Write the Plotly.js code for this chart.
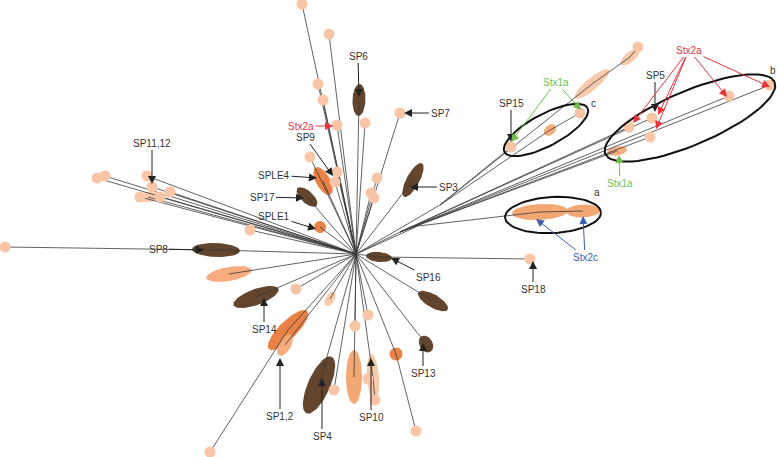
<!DOCTYPE html>
<html><head><meta charset="utf-8">
<script src="https://cdn.plot.ly/plotly-3.0.1.min.js"></script>
<style>html,body{margin:0;padding:0;background:#fff}#chart{width:777px;height:457px}</style>
</head><body><div id="chart"></div>
<script>
// ---- tree data (layout units) ----
const junctionName   = ['R','Ja','Jb','Jc'];
const junctionX      = [356, 418, 400, 440];
const junctionY      = [254, 226, 232, 205];
const junctionParent = [null,'R','R','R'];

// clusters (collapsed clades drawn as ellipses)
const clusterName   = ['SP6','SP3','SPLE4','SP17','SP8','C6','SP14','C8','SP1','SP2L','SP4','C12','SP10','SP13','C15','SP16','A1','A2','Cs','Ch1','Ch2','Bs','SPLE1','C23','C24'];
const clusterX      = [359, 413, 323, 307, 216, 229, 256, 330, 288, 285, 319, 354, 373, 426, 433, 379, 540, 583, 550, 592, 630, 617, 320, 396, 148];
const clusterY      = [100, 180, 181, 197, 250, 274, 297, 299, 330, 345, 385, 377, 378, 344, 301, 257, 212, 211, 130, 84, 57, 151, 227, 354, 197];
const clusterA      = [16, 19, 15.5, 13, 24, 23, 24, 8, 27, 12, 31, 27, 24, 9, 17, 13, 28, 17, 7, 22, 12, 10, 6, 6.5, 11];
const clusterB      = [6.5, 6.5, 7, 6, 7, 7, 8, 4.5, 9, 6, 11, 8, 6, 6.5, 6.5, 5, 8, 6.5, 5, 6, 5, 4.5, 6, 6.5, 5];
const clusterAngle  = [92, -62, 61, 42, 2, -10, -20, -60, -45, -60, -66, 90, 86, 60, 30, 5, -3, -2, -40, -40, -40, -10, 0, 0, -5];
const clusterKind   = ['brown','brown','orange','brown','brown','salmon','brown','pale','orange','salmon','brown','mid','pale','brown','brown','brown','mid','mid','salmon','pale','pale','salmon','orange','orange','pale'];
const clusterParent = ['R','R','R','R','R','R','R','R','R','R','R','R','R','R','R','R','Ja','A1','Jc','Jc','Ch1','Jb','R','R','R'];

// leaves
const leafX      = [302, 329, 318, 323, 337, 365, 400, 337, 335, 310, 377, 371, 374, 97, 105, 147, 152, 170, 140, 160, 250, 5, 296, 210, 334, 355, 368, 368, 375, 416, 530, 511, 580, 638, 770, 729, 652, 629, 650];
const leafY      = [4, 34, 84, 100, 125, 123, 113, 172, 182, 157, 178, 193, 198, 178, 176, 176, 187, 192, 197, 197, 230, 247, 289, 452, 390, 326, 315, 379, 400, 431, 259, 147, 113, 47, 85, 96, 118, 127, 137];
const leafParent = ['R','R','R','R','R','R','R','R','R','R','R','R','R','R','R','R','R','R','R','R','R','SP8','R','SP1','R','R','R','SP10','SP10','C23','SP16','Jc','Cs','Ch2','Jb','Jb','Jb','Jb','Jb'];

// clade outlines a, b, c
const cladeLabel = ['a','b','c'];
const cladeX     = [553, 690, 546];
const cladeY     = [215, 118, 130];
const cladeA     = [48, 92, 47];
const cladeB     = [18, 27, 16];
const cladeAngle = [-3, -23, -28];
const cladeTextX = [597, 773, 593];
const cladeTextY = [192, 70, 103];

// labels with arrows
const labText  = ['SP6','SP7','Stx2a','SP9','SPLE4','SP17','SPLE1','SP11,12','SP8','SP14','SP1,2','SP4','SP10','SP13','SP16','SP3','SP18','SP15','Stx1a','Stx1a','Stx1a','SP5','Stx2a','Stx2a','Stx2a','Stx2a','Stx2a','Stx2c','Stx2c'];
const labX     = [358, 440, 301, 305, 274, 262, 274, 152, 158, 264, 280, 322, 371, 423, 428, 448, 533, 511, 556, 556, 620, 655, 689, 689, 689, 689, 689, 585, 585];
const labY     = [56, 113, 126, 137, 175, 197, 216, 143, 249, 329, 416, 436, 417, 373, 277, 187, 289, 103, 82, 82, 183, 75, 50, 50, 50, 50, 50, 257, 257];
const headX    = [359, 404, 333, 333, 317, 304, 316, 152, 204, 264, 280, 322, 371, 423, 391, 410, 533, 511, 511, 581, 619, 655, 770, 727, 633, 658, 656, 583, 536];
const headY    = [97, 113, 126, 176, 178, 198, 229, 184, 250, 298, 358, 378, 358, 343, 258, 187, 261, 142, 142, 110, 155, 112, 87, 97, 123, 115, 129, 216, 219];
const labKind  = ['k','k','r','k','k','k','k','k','k','k','k','k','k','k','k','k','k','k','g','g','g','k','r','r','r','r','r','b','b'];

// ---- styles ----
const fillColor = {brown:'#5b3a22', orange:'#ea7b3b', salmon:'#f4a878', pale:'#f8c6a6', mid:'#f2a26c'};
const inkColor  = {k:'#222222', r:'#e8323c', g:'#6cbf4a', b:'#3d5fae'};

// ---- build ----
const pos = {};
junctionName.forEach((n,i)=>pos[n]=[junctionX[i],junctionY[i]]);
clusterName.forEach((n,i)=>pos[n]=[clusterX[i],clusterY[i]]);

function ellipse(cx,cy,a,b,angDeg){
  const p = angDeg*Math.PI/180, xs=[], ys=[];
  for(let k=0;k<=72;k++){
    const t = k/72*2*Math.PI;
    xs.push(cx + a*Math.cos(t)*Math.cos(p) - b*Math.sin(t)*Math.sin(p));
    ys.push(cy + a*Math.cos(t)*Math.sin(p) + b*Math.sin(t)*Math.cos(p));
  }
  return [xs,ys];
}

const traces = [];
clusterName.forEach((n,i)=>{
  const [xs,ys] = ellipse(clusterX[i],clusterY[i],clusterA[i],clusterB[i],clusterAngle[i]);
  traces.push({type:'scatter',mode:'lines',x:xs,y:ys,fill:'toself',fillcolor:fillColor[clusterKind[i]],
    line:{width:0,color:fillColor[clusterKind[i]]},hoverinfo:'skip',opacity:0.95});
});
const ex=[], ey=[];
function addEdge(child, parent){ if(!parent) return; const p=pos[parent]; ex.push(p[0],child[0],null); ey.push(p[1],child[1],null); }
junctionName.forEach((n,i)=>addEdge([junctionX[i],junctionY[i]], junctionParent[i]));
clusterName.forEach((n,i)=>addEdge([clusterX[i],clusterY[i]], clusterParent[i]));
leafX.forEach((x,i)=>addEdge([x,leafY[i]], leafParent[i]));
traces.push({type:'scatter',mode:'lines',x:ex,y:ey,line:{color:'#3a3a3a',width:0.8},hoverinfo:'skip'});
traces.push({type:'scatter',mode:'markers',x:leafX,y:leafY,marker:{size:11,color:'#f8c5a6',line:{width:0}},hoverinfo:'skip'});
cladeLabel.forEach((c,i)=>{
  const [xs,ys] = ellipse(cladeX[i],cladeY[i],cladeA[i],cladeB[i],cladeAngle[i]);
  traces.push({type:'scatter',mode:'lines',x:xs,y:ys,line:{color:'#111',width:2},hoverinfo:'skip'});
});

const annotations = [];
const seen = {};
labText.forEach((t,i)=>{
  const key = t+'@'+labX[i]+','+labY[i];
  const dup = seen[key]; seen[key]=true;
  annotations.push({x:headX[i],y:headY[i],ax:labX[i],ay:labY[i],axref:'x',ayref:'y',xref:'x',yref:'y',
    text:t,showarrow:true,arrowhead:2,arrowsize:1.6,arrowwidth:1,arrowcolor:inkColor[labKind[i]],standoff:0,startstandoff:0,
    font:{family:'Liberation Sans, Arial, sans-serif',size:10,color: dup?'rgba(0,0,0,0)':(labKind[i]==='k'?'#333':inkColor[labKind[i]])}});
});
cladeLabel.forEach((c,i)=>annotations.push({x:cladeTextX[i],y:cladeTextY[i],xref:'x',yref:'y',text:c,showarrow:false,
  font:{family:'Liberation Sans, Arial, sans-serif',size:10,color:'#333'}}));

Plotly.newPlot('chart',traces,{
  width:777,height:457,margin:{l:0,r:0,t:0,b:0},showlegend:false,
  paper_bgcolor:'#fff',plot_bgcolor:'#fff',
  xaxis:{range:[0,777],visible:false,fixedrange:true},
  yaxis:{range:[457,0],visible:false,fixedrange:true},
  annotations:annotations
},{displayModeBar:false,staticPlot:true});
</script></body></html>
